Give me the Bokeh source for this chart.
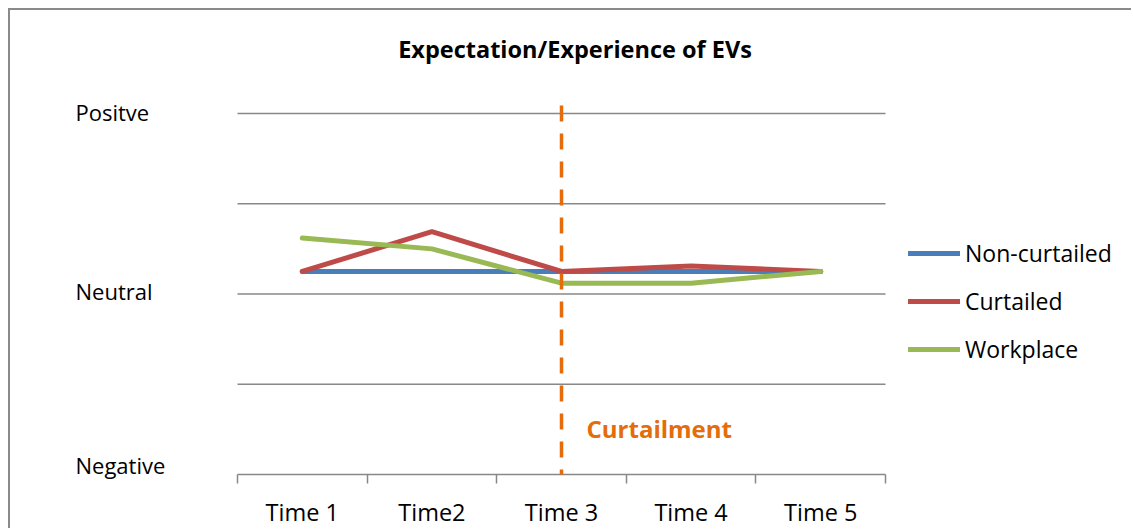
from bokeh.plotting import figure
from bokeh.models import FixedTicker, Legend, LegendItem
from bokeh.core.properties import value
from bokeh.embed import file_html
from bokeh.resources import INLINE

# ---- data ----
categories = ["Time 1", "Time2", "Time 3", "Time 4", "Time 5"]
non_curtailed = [0.25, 0.25, 0.25, 0.25, 0.25]
curtailed = [0.25, 0.69, 0.25, 0.31, 0.25]
workplace = [0.62, 0.50, 0.12, 0.12, 0.25]
y_tick_values = [2, 0, -2]
y_tick_labels = ["Positve", "Neutral", "Negative"]
grid_values = [-2, -1, 0, 1, 2]
curtailment_at = "Time 3"
title_text = "Expectation/Experience of EVs"
series_names = ["Non-curtailed", "Curtailed", "Workplace"]

FONT = value("Open Sans")
n = len(categories)
xs = list(range(1, n + 1))
x_lo, x_hi = 0.5, n + 0.5
y_lo = -2

# whole canvas is the frame; plot area is the 0.5..5.5 x -2..2 region
PX_X = 129.6   # px per category
PX_Y = 90.25   # px per y unit
W, H = 1123, 520
LEFT_PX = 227      # canvas px left of the plot area
AXIS_Y_PX = 464    # canvas px from top to the baseline

p = figure(width=W, height=H, output_backend="svg", toolbar_location=None,
           x_range=(x_lo - LEFT_PX / PX_X, x_lo + (W - LEFT_PX) / PX_X),
           y_range=(y_lo - (H - AXIS_Y_PX) / PX_Y, y_lo + AXIS_Y_PX / PX_Y),
           min_border_left=0, min_border_right=0, min_border_top=0, min_border_bottom=0,
           y_axis_location=None)
p.styles = {"margin-left": "8px", "margin-top": "8px",
            "border-top": "2px solid #8a8a8a", "border-left": "2px solid #8a8a8a"}
p.outline_line_color = None
p.background_fill_color = "white"
p.border_fill_color = "white"
p.xgrid.visible = False
p.ygrid.visible = False

# horizontal gridlines (incl. the baseline) spanning the plot area only
p.segment(x0=[x_lo] * len(grid_values), y0=grid_values, x1=[x_hi] * len(grid_values), y1=grid_values,
          line_color="#888888", line_width=1.5)

ax = p.xaxis[0]
ax.fixed_location = y_lo
ax.ticker = FixedTicker(ticks=xs, minor_ticks=[x - 0.5 for x in xs] + [n + 0.5])
ax.major_label_overrides = {x: c for x, c in zip(xs, categories)}
ax.axis_line_color = None
ax.major_tick_out = 0
ax.major_tick_in = 0
ax.minor_tick_out = 9
ax.minor_tick_in = 0
ax.minor_tick_line_color = "#888888"
ax.minor_tick_line_width = 1.5
ax.major_label_text_font = "Open Sans"
ax.major_label_text_font_size = "23.5px"
ax.major_label_text_color = "black"
ax.major_label_standoff = 12

colors = ["#4a7ebb", "#be4b48", "#98b954"]
renderers = []
for ys, c in zip([non_curtailed, curtailed, workplace], colors):
    renderers.append(p.line(xs, ys, line_color=c, line_width=5, line_cap="round", line_join="round"))

cx = categories.index(curtailment_at) + 1
p.segment(x0=[cx], y0=[2.09], x1=[cx], y1=[y_lo], line_color="#e46c0a", line_width=3.5, line_dash="16 12")

# y category labels (left aligned, like the reference)
p.text(x=[x_lo - 162 / PX_X] * 3, y=y_tick_values, text=y_tick_labels,
       y_offset=[-2, -3, -10], text_font=FONT, text_font_size="22px",
       text_baseline="middle", text_align="left", text_color="black")

# title
p.text(x=[x_lo + 337.5 / PX_X], y=[2 + 65 / PX_Y], text=[title_text], text_font=FONT,
       text_font_size="23.5px", text_font_style="bold", text_align="center",
       text_baseline="middle", text_color="black")

# curtailment note
p.text(x=[cx + 25 / PX_X], y=[y_lo + 46 / PX_Y], text=["Curtailment"], text_font=FONT,
       text_font_size="24px", text_font_style="bold", text_align="left",
       text_baseline="middle", text_color="#e46c0a")

legend = Legend(items=[LegendItem(label=s, renderers=[r]) for s, r in zip(series_names, renderers)],
                location=(898, H - 355), glyph_width=52, glyph_height=30, label_height=30,
                label_standoff=5, spacing=16, padding=0, margin=0, border_line_color=None,
                background_fill_alpha=0, label_text_font="Open Sans", label_text_font_size="23px",
                label_text_color="black", label_text_baseline="middle")
p.add_layout(legend)

open("out.html", "w").write(file_html(p, INLINE))
